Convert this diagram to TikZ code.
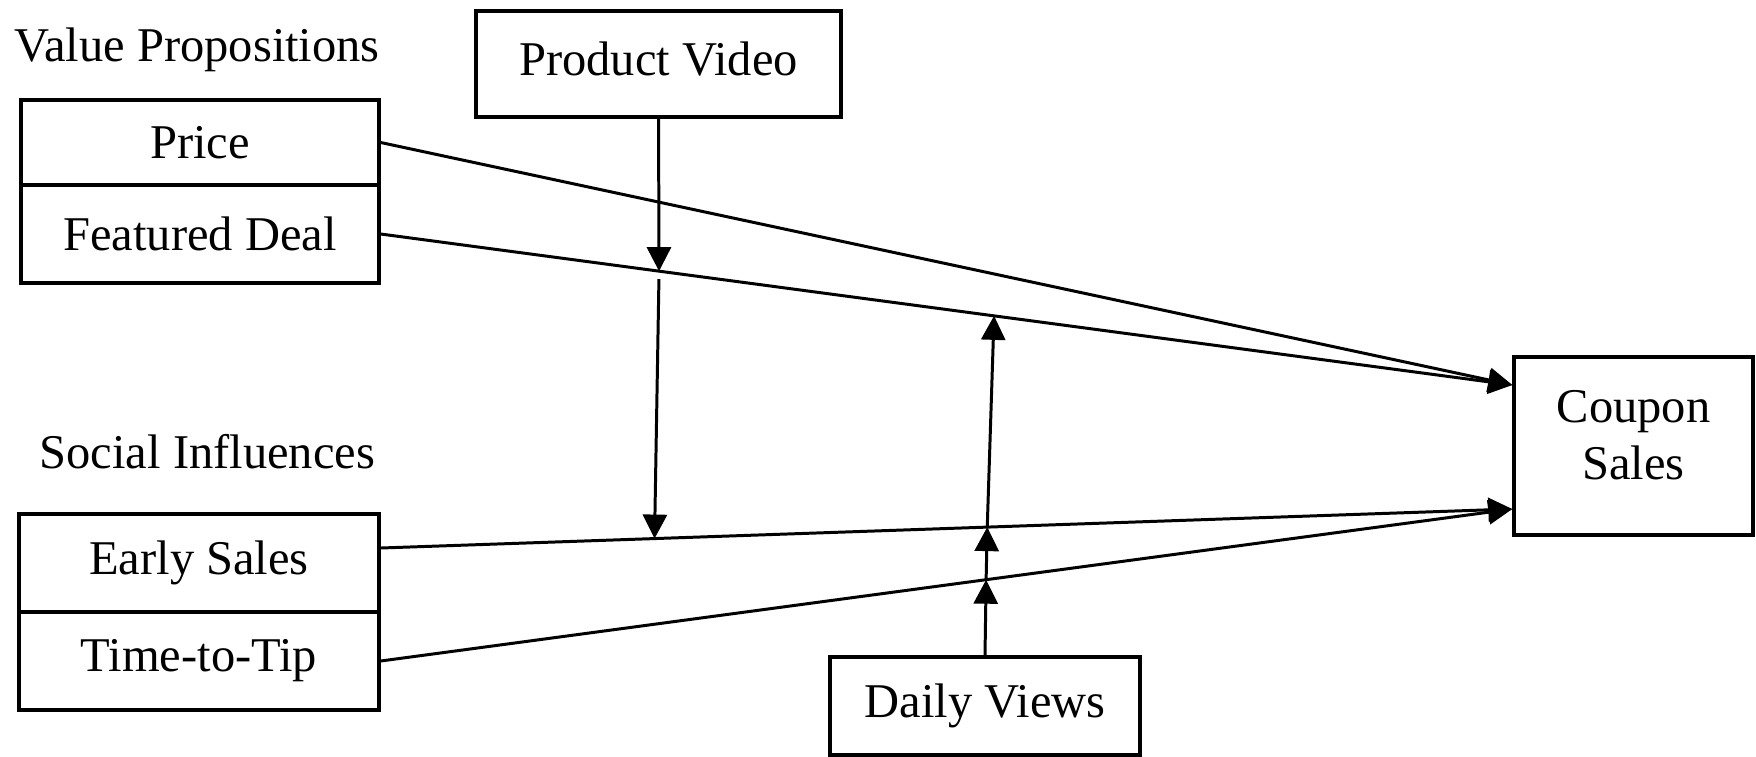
\documentclass[tikz,border=0pt]{standalone}
\usepackage{fontspec}
\setmainfont{Liberation Serif}
\usetikzlibrary{arrows.meta,calc}

\begin{document}
\begin{tikzpicture}[x=1cm,y=1cm,
  box/.style={draw,line width=0.95pt,inner sep=0pt,align=center},
  link/.style={line width=0.85pt},
  >={Triangle[length=0.24cm,width=0.24cm]},
  every node/.style={font=\fontsize{13.8}{16.2}\selectfont}]
\useasboundingbox (0,0) rectangle (17.56,-7.56);
% value propositions
\node[anchor=base west,inner sep=0pt] (vp) at (0.14,-0.61) {Value Propositions};
\node[box,minimum width=3.58cm,minimum height=0.85cm] (price) at (2.0,-1.425) {Price};
\node[box,minimum width=3.58cm,minimum height=0.98cm] (fd) at (2.0,-2.34) {Featured Deal};
% social influences
\node[anchor=base west,inner sep=0pt] (si) at (0.39,-4.68) {Social Influences};
\node[box,minimum width=3.6cm,minimum height=0.98cm] (es) at (1.99,-5.63) {Early Sales};
\node[box,minimum width=3.6cm,minimum height=0.98cm] (ttt) at (1.99,-6.61) {Time-to-Tip};
% moderators and outcome
\node[box,minimum width=3.65cm,minimum height=1.06cm] (pv) at (6.585,-0.64) {\raisebox{0.05cm}[\height][\depth]{Product Video}};
\node[box,minimum width=3.1cm,minimum height=0.98cm] (dv) at (9.85,-7.06) {Daily Views};
\node[box,minimum width=2.39cm,minimum height=1.78cm] (cs) at (16.335,-4.46) {\raisebox{0.11cm}[\height][\depth]{\shortstack{Coupon\\[0.02cm]Sales}}};

\coordinate (cs-top) at ($(cs.west)+(0,0.61)$);
\coordinate (cs-bot) at ($(cs.west)+(0,-0.63)$);
\coordinate (es-out) at ($(es.east)+(0,0.15)$);

\draw[link,->] (price.east) -- (cs-top);
\draw[link,->] (fd.east) -- (cs-top) coordinate[pos=0.246] (m1) coordinate[pos=0.542] (m5);
\draw[link,->] (es-out) -- (cs-bot) coordinate[pos=0.242] (m2) coordinate[pos=0.536] (m3);
\draw[link,->] (ttt.east) -- (cs-bot) coordinate[pos=0.535] (m4);

\draw[link,->] (pv.south) -- (m1);
\draw[link,->,shorten <=0.08cm] (m1) -- (m2);
\draw[link,->] (dv.north) -- (m4);
\draw[link,->] (m4) -- (m3);
\draw[link,->] (m3) -- (m5);
\end{tikzpicture}
\end{document}
